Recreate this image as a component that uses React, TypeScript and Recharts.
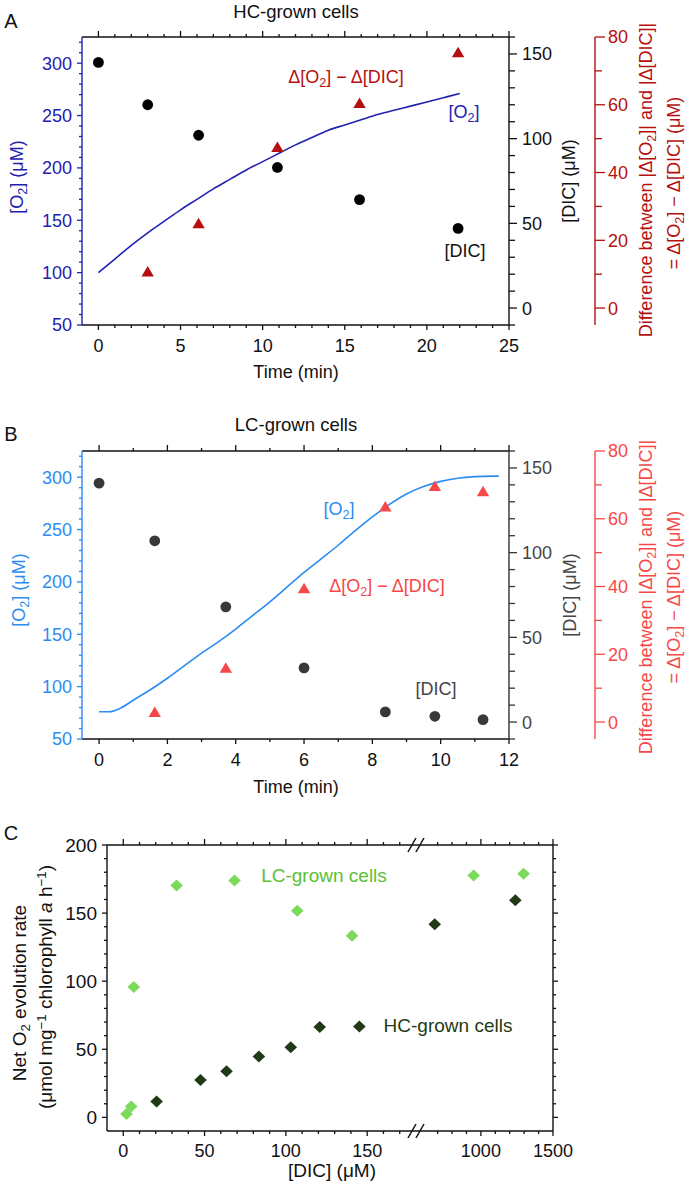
import React from "react";
import { ComposedChart, Line, Scatter, XAxis, YAxis } from "recharts";

const FONT = '"Liberation Sans", Arial, Helvetica, sans-serif';

// ---- A: HC-grown cells ----
const aO2Time = [0, 1, 2, 3, 4, 5, 6, 7, 8, 9, 10, 11, 12, 13, 14, 15, 16, 17, 18, 19, 20, 21, 22];
const aO2 = [100, 113, 126, 138, 149, 160, 170, 180, 189, 198, 206, 214, 222, 229, 236, 241, 246, 251, 255, 259, 263, 267, 271];
const aSampleTime = [0, 3.0, 6.1, 10.9, 15.9, 21.9];
const aDic = [145, 120, 102, 83, 64, 47];
const aDiffTime = [3.0, 6.1, 10.9, 15.9, 21.9];
const aDiff = [10.8, 25, 47.5, 60.5, 75.5];

// ---- B: LC-grown cells ----
const bO2Time = [0, 0.3, 0.6, 1, 1.5, 2, 2.5, 3, 3.5, 4, 4.5, 5, 5.5, 6, 6.5, 7, 7.5, 8, 8.5, 9, 9.5, 10, 10.5, 11, 11.5, 11.7];
const bO2 = [76, 76, 79, 87, 97, 108, 120, 132, 143, 155, 168, 181, 195, 209, 222, 235, 249, 262, 274, 284, 291, 296, 299, 300.5, 301, 301];
const bSampleTime = [0, 1.63, 3.71, 6.0, 8.38, 9.83, 11.24];
const bDic = [141, 107, 68, 32, 6, 3.4, 1.4];
const bDiffTime = [1.63, 3.71, 6.0, 8.38, 9.83, 11.24];
const bDiff = [3, 16, 39.5, 63.6, 69.7, 68.1];

// ---- C: net O2 evolution vs DIC ----
const cLcDic = [2, 4.9, 6.5, 32.8, 68.4, 107, 140.7, 950, 1296];
const cLcRate = [2.5, 7.9, 95.7, 170.3, 174, 151.7, 133.4, 177.6, 178.8];
const cHcDic = [20.5, 47.5, 63.5, 83.4, 103, 120.8, 145.2, 680, 1239];
const cHcRate = [11.6, 27.5, 33.9, 44.7, 51.5, 66.3, 66.8, 141.9, 159.5];

// tick labels
const aTimeLabels = [0, 5, 10, 15, 20, 25];
const bTimeLabels = [0, 2, 4, 6, 8, 10, 12];
const o2Labels = [50, 100, 150, 200, 250, 300];
const dicLabels = [0, 50, 100, 150];
const diffLabels = [0, 20, 40, 60, 80];
const rateLabels = [0, 50, 100, 150, 200];
const cDicLabels = [0, 50, 100, 150, 1000, 1500];

const range = (a: number, b: number, s: number) =>
  Array.from({ length: Math.round((b - a) / s) + 1 }, (_, i) => +(a + i * s).toFixed(6));

// broken x axis in C: 0-180 linear, then 550-1500 compressed
const BREAK_LO = 180;
const BREAK_HI = 550;
const K = 0.0887;
const toU = (x: number) => (x <= BREAK_LO ? x : BREAK_LO + (x - BREAK_HI) * K);
const fromU = (u: number) => (u <= BREAK_LO ? u : BREAK_HI + (u - BREAK_LO) / K);

type TickOpts = {
  side: "left" | "right" | "top" | "bottom";
  axis: number;
  majors: number[];
  majorLen: number;
  minorLen: number;
  gap?: number;
  color: string;
  textColor?: string;
  labels?: boolean;
  fontSize?: number;
  fmt?: (v: number) => string;
  breakAt?: number;
};

const makeTick = (o: TickOpts) => (props: any) => {
  const v: number = props.payload.value;
  const vertical = o.side === "left" || o.side === "right";
  const pos: number = vertical ? props.y : props.x;
  if (o.breakAt !== undefined && Math.abs(v - o.breakAt) < 1e-6) {
    return (
      <g>
        {[-4, 4].map((d) => (
          <line key={d} x1={pos + d - 4} y1={o.axis + 7} x2={pos + d + 4} y2={o.axis - 7} stroke="#111" strokeWidth={1.5} />
        ))}
      </g>
    );
  }
  const major = o.majors.some((m) => Math.abs(m - v) < 1e-6);
  const len = major ? o.majorLen : o.minorLen;
  const s = o.side === "left" || o.side === "top" ? -1 : 1;
  const label = o.labels && major ? (o.fmt ? o.fmt(v) : String(v)) : null;
  const fs = o.fontSize ?? 18;
  if (vertical) {
    return (
      <g>
        <line x1={o.axis} x2={o.axis + s * len} y1={pos} y2={pos} stroke={o.color} strokeWidth={1.3} />
        {label !== null && (
          <text x={o.axis + s * (o.gap ?? 10)} y={pos} dy="0.36em" textAnchor={s < 0 ? "end" : "start"}
            fill={o.textColor ?? o.color} fontSize={fs} fontFamily={FONT}>{label}</text>
        )}
      </g>
    );
  }
  return (
    <g>
      <line x1={pos} x2={pos} y1={o.axis} y2={o.axis + s * len} stroke={o.color} strokeWidth={1.3} />
      {label !== null && (
        <text x={pos} y={o.axis + s * (o.gap ?? 12)} dy="0.71em" textAnchor="middle"
          fill={o.textColor ?? o.color} fontSize={fs} fontFamily={FONT}>{label}</text>
      )}
    </g>
  );
};

const circleShape = (fill: string) => (p: any) => <circle cx={p.cx} cy={p.cy} r={5.4} fill={fill} />;
const triShape = (fill: string) => (p: any) => (
  <path d={`M${p.cx - 6.2},${p.cy + 5} L${p.cx + 6.2},${p.cy + 5} L${p.cx},${p.cy - 5.5} Z`} fill={fill} />
);
const diamondShape = (fill: string) => (p: any) => (
  <path d={`M${p.cx},${p.cy - 6} L${p.cx + 6.3},${p.cy} L${p.cx},${p.cy + 6} L${p.cx - 6.3},${p.cy} Z`} fill={fill} />
);
// invisible marks, only to make the mirror (frame) axes render
const noShape = () => <g />;

type Colors = { o2: string; dic: string; dicAxis: string; dicText: string; diff: string };

function TimePanel(p: {
  xMax: number;
  xMin: number;
  xLabels: number[];
  o2Time: number[];
  o2: number[];
  sampleTime: number[];
  dic: number[];
  diffTime: number[];
  diff: number[];
  c: Colors;
}) {
  const { c } = p;
  const o2Rows = p.o2Time.map((t, i) => ({ t, o2: p.o2[i] }));
  const dicRows = p.sampleTime.map((t, i) => ({ t, dic: p.dic[i] }));
  const diffRows = p.diffTime.map((t, i) => ({ t, diff: p.diff[i] }));
  const xTicks = range(0, p.xMax, 1);
  const dom: [number, number] = [p.xMin, p.xMax];
  return (
    <ComposedChart width={685} height={380} margin={{ top: 36, right: 0, bottom: 0, left: 0 }}>
      <XAxis xAxisId="b" type="number" dataKey="t" domain={dom} allowDataOverflow ticks={xTicks} interval={0}
        height={55} axisLine={{ stroke: "#111", strokeWidth: 1.4 }} tickLine={false}
        tick={makeTick({ side: "bottom", axis: 325, majors: p.xLabels, majorLen: 5, minorLen: 3, gap: 14, color: "#111", labels: true })} />
      <XAxis xAxisId="t" orientation="top" type="number" dataKey="t" domain={dom} allowDataOverflow ticks={xTicks} interval={0}
        height={1} axisLine={{ stroke: "#111", strokeWidth: 1.4 }} tickLine={false}
        tick={makeTick({ side: "top", axis: 37, majors: p.xLabels, majorLen: 6, minorLen: 3, color: "#111" })} />
      <YAxis yAxisId="o2" orientation="left" type="number" dataKey="o2" domain={[50, 325]} allowDataOverflow
        ticks={range(50, 320, 10)} interval={0} width={82} axisLine={{ stroke: c.o2, strokeWidth: 1.4 }} tickLine={false}
        tick={makeTick({ side: "left", axis: 82, majors: o2Labels, majorLen: 5, minorLen: 3, gap: 10, color: c.o2, labels: true })} />
      <YAxis yAxisId="dic" orientation="right" type="number" dataKey="dic" domain={[-10, 160]} allowDataOverflow
        ticks={range(-10, 160, 10)} interval={0} width={86} axisLine={{ stroke: c.dicAxis, strokeWidth: 1.4 }} tickLine={false}
        tick={makeTick({ side: "right", axis: 509, majors: dicLabels, majorLen: 8, minorLen: 6, gap: 13, color: c.dicAxis, textColor: c.dicText, labels: true })} />
      <YAxis yAxisId="diff" orientation="right" type="number" dataKey="diff" domain={[-5, 80]} allowDataOverflow
        ticks={range(0, 80, 10)} interval={0} width={90} axisLine={{ stroke: c.diff, strokeWidth: 1.4 }} tickLine={false}
        tick={makeTick({ side: "right", axis: 595, majors: diffLabels, majorLen: 10, minorLen: 7, gap: 13, color: c.diff, labels: true })} />
      <Line xAxisId="b" yAxisId="o2" data={o2Rows} dataKey="o2" type="monotone" stroke={c.o2} strokeWidth={1.6}
        dot={false} isAnimationActive={false} />
      <Scatter xAxisId="b" yAxisId="dic" data={dicRows} dataKey="dic" fill={c.dic} shape={circleShape(c.dic)} isAnimationActive={false} />
      <Scatter xAxisId="b" yAxisId="diff" data={diffRows} dataKey="diff" fill={c.diff} shape={triShape(c.diff)} isAnimationActive={false} />
      <Scatter xAxisId="t" yAxisId="dic" data={dicRows} dataKey="dic" shape={noShape} isAnimationActive={false} />
    </ComposedChart>
  );
}

function RatePanel() {
  const lcRows = cLcDic.map((d, i) => ({ u: toU(d), rate: cLcRate[i] }));
  const hcRows = cHcDic.map((d, i) => ({ u: toU(d), rate: cHcRate[i] }));
  const xTicks = [...range(0, 170, 10), BREAK_LO, ...range(700, 1500, 100).map(toU)];
  const xMajors = cDicLabels.map(toU);
  const dom: [number, number] = [-10, toU(1500)];
  const fmt = (v: number) => String(Math.round(fromU(v)));
  return (
    <ComposedChart width={685} height={392} margin={{ top: 44, right: 131, bottom: 0, left: 0 }}>
      <XAxis xAxisId="b" type="number" dataKey="u" domain={dom} allowDataOverflow ticks={xTicks} interval={0}
        height={61} axisLine={{ stroke: "#111", strokeWidth: 1.4 }} tickLine={false}
        tick={makeTick({ side: "bottom", axis: 331, majors: xMajors, majorLen: 5, minorLen: 3, gap: 13, color: "#111", labels: true, fmt, breakAt: BREAK_LO })} />
      <XAxis xAxisId="t" orientation="top" type="number" dataKey="u" domain={dom} allowDataOverflow ticks={xTicks} interval={0}
        height={1} axisLine={{ stroke: "#111", strokeWidth: 1.4 }} tickLine={false}
        tick={makeTick({ side: "top", axis: 45, majors: xMajors, majorLen: 6, minorLen: 3, color: "#111", breakAt: BREAK_LO })} />
      <YAxis yAxisId="l" orientation="left" type="number" dataKey="rate" domain={[-10, 200]} allowDataOverflow
        ticks={range(0, 200, 10)} interval={0} width={107} axisLine={{ stroke: "#111", strokeWidth: 1.4 }} tickLine={false}
        tick={makeTick({ side: "left", axis: 107, majors: rateLabels, majorLen: 5, minorLen: 3, gap: 10, color: "#111", labels: true, fontSize: 19 })} />
      <YAxis yAxisId="r" orientation="right" type="number" dataKey="rate" domain={[-10, 200]} allowDataOverflow
        ticks={range(0, 200, 10)} interval={0} width={1} axisLine={{ stroke: "#111", strokeWidth: 1.4 }} tickLine={false}
        tick={makeTick({ side: "right", axis: 553, majors: rateLabels, majorLen: 5, minorLen: 3, color: "#111" })} />
      <Scatter xAxisId="b" yAxisId="l" data={lcRows} dataKey="rate" fill="#7bda5a" shape={diamondShape("#7bda5a")} isAnimationActive={false} />
      <Scatter xAxisId="b" yAxisId="l" data={hcRows} dataKey="rate" fill="#1f3a14" shape={diamondShape("#1f3a14")} isAnimationActive={false} />
      <Scatter xAxisId="t" yAxisId="r" data={hcRows} dataKey="rate" shape={noShape} isAnimationActive={false} />
    </ComposedChart>
  );
}

const Sub = ({ children }: { children: React.ReactNode }) => (
  <span style={{ fontSize: "0.7em", position: "relative", top: "0.3em" }}>{children}</span>
);
const Sup = ({ children }: { children: React.ReactNode }) => (
  <span style={{ fontSize: "0.7em", position: "relative", top: "-0.45em" }}>{children}</span>
);

const Txt = (p: { x: number; y: number; color?: string; size?: number; rot?: boolean; children: React.ReactNode }) => (
  <div
    style={{
      position: "absolute",
      left: p.x,
      top: p.y,
      transform: `translate(-50%, -50%)${p.rot ? " rotate(-90deg)" : ""}`,
      color: p.color ?? "#111",
      fontSize: p.size ?? 18,
      lineHeight: 1,
      whiteSpace: "nowrap",
      fontFamily: FONT,
    }}
  >
    {p.children}
  </div>
);

const colA: Colors = { o2: "#2121b0", dic: "#000000", dicAxis: "#111111", dicText: "#111111", diff: "#b50f0f" };
const colB: Colors = { o2: "#2b8cf2", dic: "#383838", dicAxis: "#333333", dicText: "#444444", diff: "#f64848" };

const O2 = () => (
  <>
    [O<Sub>2</Sub>]
  </>
);

export default function App() {
  return (
    <div style={{ position: "absolute", left: 0, top: 0, width: 685, height: 1192, background: "#fff", fontFamily: FONT }}>
      <div style={{ position: "absolute", left: 0, top: 0 }}>
        <TimePanel xMin={-1} xMax={25} xLabels={aTimeLabels} o2Time={aO2Time} o2={aO2} sampleTime={aSampleTime}
          dic={aDic} diffTime={aDiffTime} diff={aDiff} c={colA} />
      </div>
      <div style={{ position: "absolute", left: 0, top: 414 }}>
        <TimePanel xMin={-0.5} xMax={12} xLabels={bTimeLabels} o2Time={bO2Time} o2={bO2} sampleTime={bSampleTime}
          dic={bDic} diffTime={bDiffTime} diff={bDiff} c={colB} />
      </div>
      <div style={{ position: "absolute", left: 0, top: 800 }}>
        <RatePanel />
      </div>

      {/* panel A text */}
      <Txt x={11} y={21} size={20}>A</Txt>
      <Txt x={296} y={12} size={18.5}>HC-grown cells</Txt>
      <Txt x={17} y={177} color={colA.o2} rot><O2 /> (μM)</Txt>
      <Txt x={296} y={372}>Time (min)</Txt>
      <Txt x={569} y={181} rot>[DIC] (μM)</Txt>
      <Txt x={646} y={180} color={colA.diff} rot>Difference between |Δ<O2 />| and |Δ[DIC]|</Txt>
      <Txt x={674} y={183} color={colA.diff} rot>= Δ<O2 /> − Δ[DIC] (μM)</Txt>
      <Txt x={346} y={77} color={colA.diff}>Δ<O2 /> − Δ[DIC]</Txt>
      <Txt x={464} y={112} color={colA.o2}><O2 /></Txt>
      <Txt x={465} y={251}>[DIC]</Txt>

      {/* panel B text */}
      <Txt x={11} y={434} size={20}>B</Txt>
      <Txt x={296} y={425} size={18.5}>LC-grown cells</Txt>
      <Txt x={19} y={590} color={colB.o2} rot><O2 /> (μM)</Txt>
      <Txt x={296} y={787}>Time (min)</Txt>
      <Txt x={570} y={595} color={colB.dicText} rot>[DIC] (μM)</Txt>
      <Txt x={646} y={597} color={colB.diff} rot>Difference between |Δ<O2 />| and |Δ[DIC]|</Txt>
      <Txt x={674} y={597} color={colB.diff} rot>= Δ<O2 /> − Δ[DIC] (μM)</Txt>
      <Txt x={339} y={509} color={colB.o2}><O2 /></Txt>
      <Txt x={387} y={586} color={colB.diff}>Δ<O2 /> − Δ[DIC]</Txt>
      <Txt x={436} y={689} color={colB.dicText}>[DIC]</Txt>

      {/* panel C text */}
      <Txt x={11} y={833} size={20}>C</Txt>
      <Txt x={19} y={993} rot size={19}>Net O<Sub>2</Sub> evolution rate</Txt>
      <Txt x={45} y={987} rot size={19}>(μmol mg<Sup>−1</Sup> chlorophyll <i>a</i> h<Sup>−1</Sup>)</Txt>
      <Txt x={332} y={1170} size={19}>[DIC] (μM)</Txt>
      <Txt x={324} y={875} color="#5bbf37" size={19}>LC-grown cells</Txt>
      <Txt x={448} y={1025} color="#1f3a14" size={19}>HC-grown cells</Txt>
    </div>
  );
}
